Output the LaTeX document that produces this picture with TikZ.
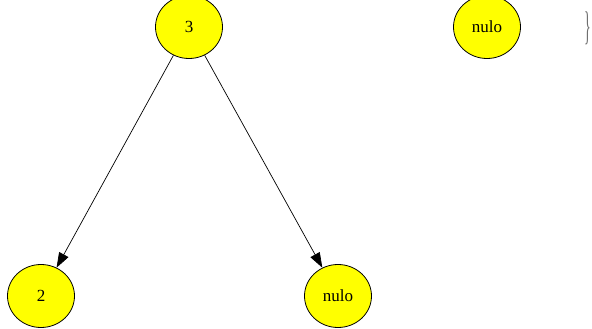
\documentclass[tikz,border=0pt]{standalone}
\usepackage{fontspec}
\setmainfont{Liberation Serif}
\usetikzlibrary{shapes.geometric,arrows.meta}
\definecolor{nodeyellow}{RGB}{255,255,0}
\definecolor{bracegray}{RGB}{110,110,110}
\tikzset{
  treenode/.style={ellipse,draw=black,fill=nodeyellow,line width=0.8pt,
    minimum width=67pt,minimum height=63pt,inner sep=0pt,
    font=\fontsize{17pt}{20pt}\selectfont},
  treeedge/.style={draw=black,line width=0.7pt,-{Triangle[length=15pt,width=10.5pt]}}
}
\begin{document}
\begin{tikzpicture}[x=1pt,y=-1pt]
\useasboundingbox (0,0) rectangle (592,329);
\begin{scope}
\clip (0,0) rectangle (592,329);
\node[treenode] (n3) at (189,27) {3};
\node[treenode] (nr) at (487,27) {nulo};
\node[treenode] (n2) at (41,296) {2};
\node[treenode] (nb) at (338,296) {nulo};
\draw[treeedge] (n3) -- (n2);
\draw[treeedge] (n3) -- (nb);
\node[text=bracegray,inner sep=0pt,font=\fontsize{40pt}{44pt}\selectfont] (br) at (588,28) {\scalebox{0.35}[1]{\}}};
\end{scope}
\end{tikzpicture}
\end{document}
